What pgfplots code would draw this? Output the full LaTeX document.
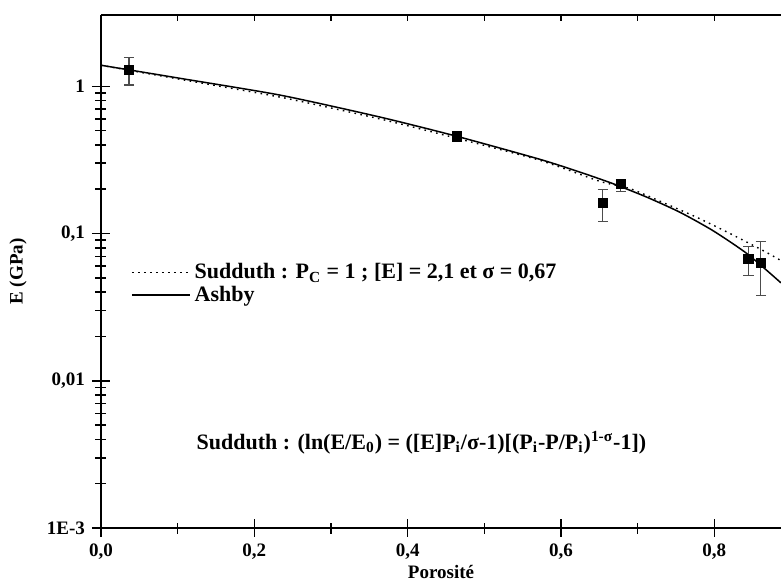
\documentclass[border=0pt]{standalone}
\usepackage{pgfplots}
\pgfplotsset{compat=1.18}
\usepackage{fontspec}
\setmainfont{Liberation Serif}
\newcommand{\ff}{\fontsize{9.5}{11}\selectfont\bfseries}
\newcommand{\fl}{\fontsize{11}{13}\selectfont\bfseries}
\begin{document}
\begin{tikzpicture}[font=\ff]
\begin{axis}[
  name=ax,
  scale only axis,
  width=340pt, height=256.5pt,
  xmin=0, xmax=0.887,
  ymode=log, ymin=0.001, ymax=3.05,
  axis x line*=box, axis y line*=left,
  axis line style={line width=1pt},
  every tick/.style={black, line width=0.8pt},
  tick align=center,
  major tick length=9pt, minor tick length=5.5pt,
  xtick={0,0.2,0.4,0.6,0.8},
  xticklabels={{0,0},{0,2},{0,4},{0,6},{0,8}},
  minor xtick={0.1,0.3,0.5,0.7},
  xtick pos=bottom,
  ytick={0.001,0.01,0.1,1},
  yticklabels={1E-3,{0,01},{0,1},1},
  ytick pos=left,
  tick label style={font=\ff},
  label style={font=\ff},
  xlabel={Porosité},
  xlabel style={at={(axis description cs:0.5,-0.086)},anchor=center},
  ylabel={E (GPa)},
  ylabel style={at={(axis description cs:-0.122,0.5)},anchor=center},
  legend cell align=left,
  legend style={draw=none, fill=none, font=\fl, at={(axis description cs:0.035,0.532)}, anchor=north west, row sep=-2pt},
  legend image code/.code={\draw[#1] (0pt,0pt) -- (29pt,0pt);},
  clip=true,
]
% Sudduth (dotted)
\addplot[black, line width=0.7pt, dash pattern=on 0.8pt off 2.2pt, smooth, tension=0.4] coordinates {
 (0,1.39) (0.103,1.116) (0.2348,0.842) (0.364,0.600) (0.4645,0.443)
 (0.5727,0.314) (0.651,0.226) (0.690,0.202) (0.733,0.1625) (0.7776,0.1285)
 (0.8206,0.100) (0.8637,0.0766) (0.887,0.0655)
};
\addlegendentry{Sudduth : P\textsubscript{C} = 1 ; [E] = 2,1 et σ = 0,67}
% Ashby (solid)
\addplot[black, line width=0.75pt, smooth, tension=0.4] coordinates {
 (0,1.39) (0.103,1.133) (0.2348,0.869) (0.364,0.618) (0.4645,0.457)
 (0.5727,0.319) (0.625,0.261) (0.668,0.218) (0.712,0.1766) (0.755,0.1396)
 (0.798,0.1048) (0.843,0.0728) (0.887,0.0462)
};
\addlegendentry{Ashby}
% data with error bars
\addplot[only marks, mark=square*, mark size=2.3pt, black, forget plot,
  error bars/.cd, y dir=both, y explicit,
  error bar style={gray!60!black, line width=0.6pt},
  error mark options={rotate=90, mark size=2.6pt, gray!60!black, line width=0.6pt}]
coordinates {
 (0.0365,1.29) += (0,0.28) -= (0,0.27)
 (0.4645,0.457) += (0,0.02) -= (0,0.02)
 (0.6545,0.161) += (0,0.038) -= (0,0.040)
 (0.678,0.217) += (0,0.016) -= (0,0.023)
 (0.8445,0.0669) += (0,0.015) -= (0,0.0149)
 (0.8607,0.0632) += (0,0.0252) -= (0,0.0251)
};
\node[font=\fl] at (axis cs:0.418,0.0038) {Sudduth : (ln(E/E\textsubscript{0}) = ([E]P\textsubscript{i}/σ-1)[(P\textsubscript{i}-P/P\textsubscript{i})\textsuperscript{1-σ}-1])};
\end{axis}
% top axis ticks pointing inward
\begin{axis}[
  scale only axis,
  width=340pt, height=256.5pt,
  xmin=0, xmax=0.887, ymin=0, ymax=1,
  axis x line*=top, axis y line=none,
  axis line style={draw=none},
  every tick/.style={black, line width=0.8pt},
  tick align=inside,
  major tick length=3pt,
  xtick={0.1,0.2,0.3,0.4,0.5,0.6,0.7,0.8},
  xticklabels={},
  ytick=\empty,
]
\addplot[draw=none, forget plot] coordinates {(0,0)};
\end{axis}
\pgfresetboundingbox
\path ([xshift=-50.5pt,yshift=-26pt]ax.south west) rectangle ([yshift=7.5pt]ax.north east);
\end{tikzpicture}
\end{document}
